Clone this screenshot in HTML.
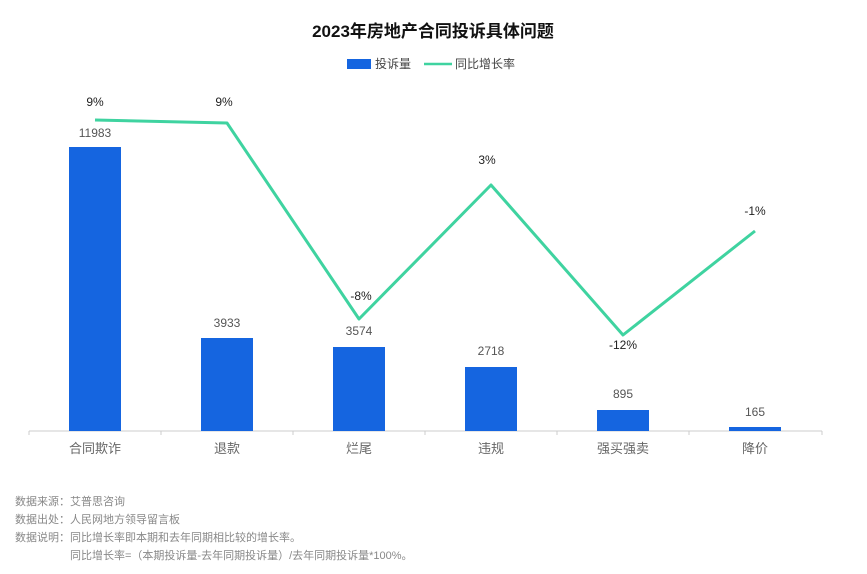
<!DOCTYPE html>
<html><head><meta charset="utf-8"><style>
body{margin:0;background:#fff;font-family:"Liberation Sans","Noto Sans CJK SC",sans-serif;}
</style></head><body>
<svg width="867" height="569" xmlns="http://www.w3.org/2000/svg" font-family="Liberation Sans, Noto Sans CJK SC, sans-serif">
<text x="433" y="37" text-anchor="middle" font-size="17" font-weight="bold" fill="#111">2023年房地产合同投诉具体问题</text>
<rect x="347" y="59" width="24" height="10" fill="#1565e0"/>
<text x="375" y="68" font-size="12" fill="#444">投诉量</text>
<line x1="424" y1="64" x2="452" y2="64" stroke="#3fd3a0" stroke-width="2.5"/>
<text x="455" y="68" font-size="12" fill="#444">同比增长率</text>
<line x1="29" y1="431" x2="822" y2="431" stroke="#ccc"/>
<g stroke="#ccc"><line x1="29" y1="431" x2="29" y2="435"/><line x1="161" y1="431" x2="161" y2="435"/><line x1="293" y1="431" x2="293" y2="435"/><line x1="425" y1="431" x2="425" y2="435"/><line x1="557" y1="431" x2="557" y2="435"/><line x1="689" y1="431" x2="689" y2="435"/><line x1="822" y1="431" x2="822" y2="435"/></g>
<g fill="#1565e0">
<rect x="69" y="147" width="52" height="284"/>
<rect x="201" y="338" width="52" height="93"/>
<rect x="333" y="347" width="52" height="84"/>
<rect x="465" y="367" width="52" height="64"/>
<rect x="597" y="410" width="52" height="21"/>
<rect x="729" y="427" width="52" height="4"/>
</g>
<g font-size="12" fill="#555" text-anchor="middle">
<text x="95" y="137">11983</text><text x="227" y="327">3933</text><text x="359" y="335">3574</text><text x="491" y="355">2718</text><text x="623" y="398">895</text><text x="755" y="416">165</text>
</g>
<polyline points="95,120 227,123 359,319 491,185 623,335 755,231" fill="none" stroke="#3fd3a0" stroke-width="3" stroke-linejoin="round"/>
<g font-size="12" fill="#222" text-anchor="middle">
<text x="95" y="106">9%</text><text x="224" y="106">9%</text><text x="361" y="300">-8%</text><text x="487" y="164">3%</text><text x="623" y="349">-12%</text><text x="755" y="215">-1%</text>
</g>
<g font-size="13" fill="#666" text-anchor="middle">
<text x="95" y="453">合同欺诈</text><text x="227" y="453">退款</text><text x="359" y="453">烂尾</text><text x="491" y="453">违规</text><text x="623" y="453">强买强卖</text><text x="755" y="453">降价</text>
</g>
<g font-size="11" fill="#888">
<text x="15" y="505">数据来源：艾普思咨询</text>
<text x="15" y="523">数据出处：人民网地方领导留言板</text>
<text x="15" y="541">数据说明：同比增长率即本期和去年同期相比较的增长率。</text>
<text x="70" y="559">同比增长率=（本期投诉量-去年同期投诉量）/去年同期投诉量*100%。</text>
</g>
</svg>
</body></html>
